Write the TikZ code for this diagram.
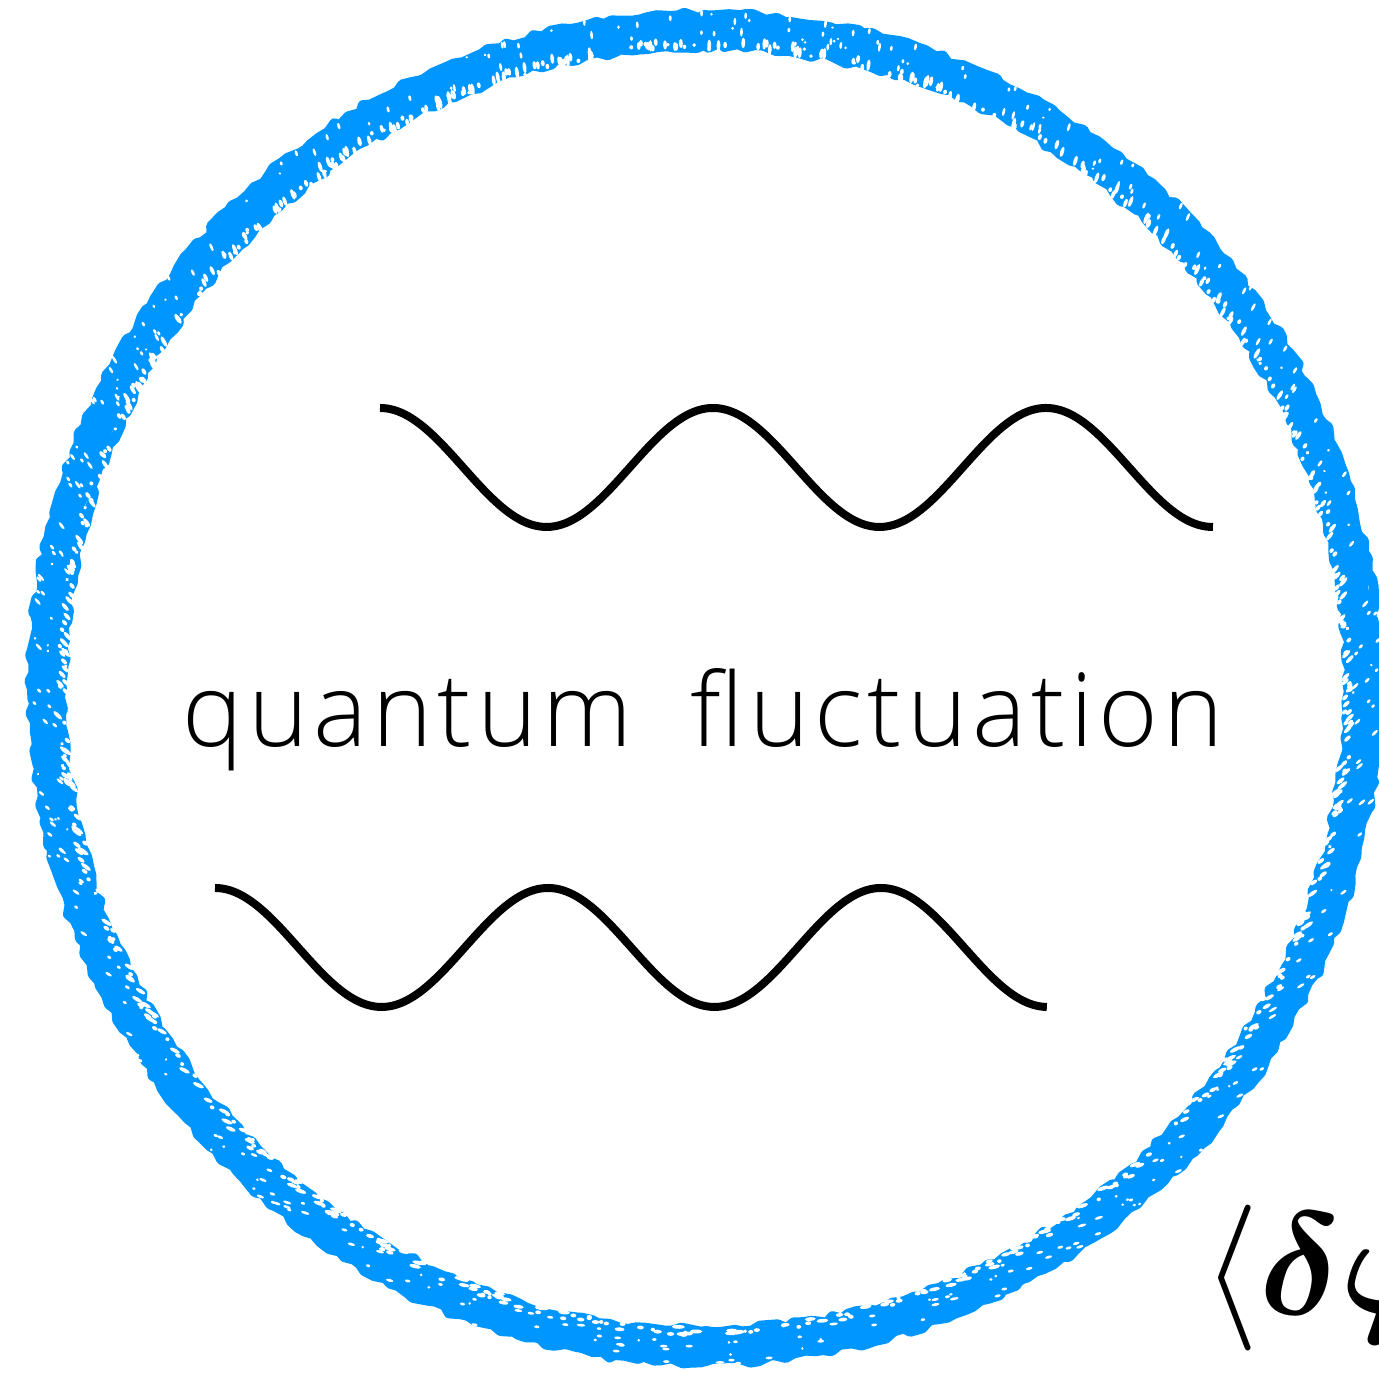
\documentclass[tikz,border=0pt]{standalone}
\usepackage{bm}
\usepackage{fontspec}
\newfontfamily\labelfont[LetterSpace=5]{Open Sans Light}
\usetikzlibrary{decorations.pathmorphing}
\definecolor{chalkblue}{HTML}{0096FF}
\tikzset{
  wave/.style={line width=0.08cm, black, line cap=butt},
  chalk/.style={chalkblue, line join=round, decorate, decoration={random steps, segment length=2.6pt, amplitude=0.9pt}},
  speck/.style={white}
}
\begin{document}
\begin{tikzpicture}
\useasboundingbox (0,0) rectangle (13.79,13.78);
\pgfmathsetseed{11}
\coordinate (c) at (7.05,6.90);
% chalky circle
\draw[chalk, line width=0.30cm] (c) circle (6.58);
\draw[chalk, line width=0.10cm] (c) circle (6.73);
\draw[chalk, line width=0.10cm] (c) circle (6.43);
\draw[chalk, line width=0.06cm] (c) circle (6.66);
% white specks in the chalk
\foreach \i in {1,...,700} {
  \pgfmathsetmacro\ang{rnd*360}
  \pgfmathsetmacro\rad{6.39+0.09*rnd}
  \pgfmathsetmacro\len{0.5+1.3*rnd}
  \fill[speck, rotate around={\ang+90:([shift={(\ang:\rad)}]c)}] ([shift={(\ang:\rad)}]c) ellipse ({\len pt} and 0.55pt);
}
\foreach \i in {1,...,350} {
  \pgfmathsetmacro\ang{rnd*360}
  \pgfmathsetmacro\rad{6.48+0.30*rnd}
  \pgfmathsetmacro\len{0.3+1.0*rnd}
  \fill[speck, rotate around={\ang+90:([shift={(\ang:\rad)}]c)}] ([shift={(\ang:\rad)}]c) ellipse ({\len pt} and 0.4pt);
}
% waves
\draw[wave] plot[domain=3.80:12.13, samples=240] (\x, {13.78-4.675+0.595*cos(360*(\x-3.80)/3.33)});
\draw[wave] plot[domain=2.15:10.47, samples=240] (\x, {13.78-9.475+0.595*cos(360*(\x-2.15)/3.33)});
% label
\node[font=\labelfont\fontsize{29}{34}\selectfont, anchor=base, inner sep=0] (lbl) at (7.03,13.78-7.47) {quantum\hspace{0.57em}fluctuation};
\node[font=\fontsize{20}{24}\selectfont, scale=2, transform shape, anchor=base west, inner sep=0] (avg) at (12.01,13.78-13.15) {$\langle\bm{\delta\varphi}$};
\end{tikzpicture}
\end{document}
